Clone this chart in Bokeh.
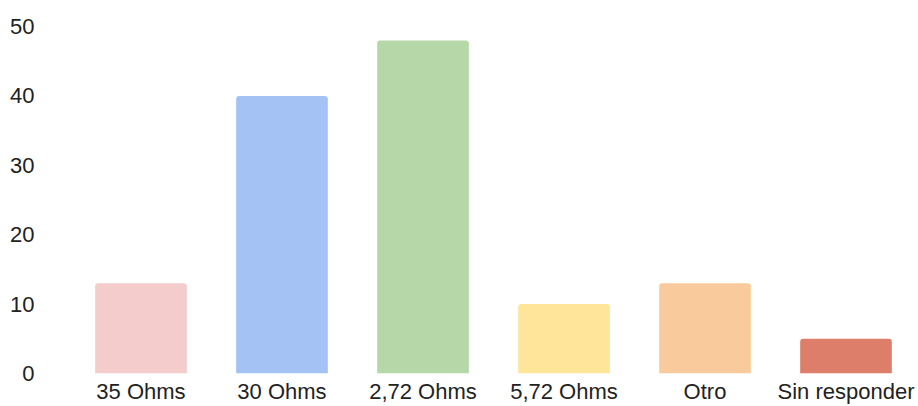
from bokeh.plotting import figure
from bokeh.models import ColumnDataSource, FactorRange, Range1d, FixedTicker
from bokeh.embed import file_html
from bokeh.resources import INLINE

categories = ["35 Ohms", "30 Ohms", "2,72 Ohms", "5,72 Ohms", "Otro", "Sin responder"]
counts = [13, 40, 48, 10, 13, 5]
colors = ["#F4CCCC", "#A4C2F4", "#B6D7A8", "#FFE599", "#F9CB9C", "#DD7E6B"]
y_ticks = [0, 10, 20, 30, 40, 50]

source = ColumnDataSource(data=dict(cat=categories, val=counts, color=colors))

p = figure(
    width=918, height=406,
    x_range=FactorRange(factors=categories, range_padding=0),
    y_range=Range1d(0, 50),
    output_backend="svg", toolbar_location=None,
    min_border_left=70, min_border_right=2, min_border_top=26, min_border_bottom=33,
)

p.vbar(x="cat", top="val", width=0.65, source=source, fill_color="color",
       line_color=None, border_radius=(3, 3, 0, 0))

p.outline_line_color = None
p.xgrid.visible = False
p.ygrid.visible = False

for ax in (p.xaxis, p.yaxis):
    ax.axis_line_color = None
    ax.major_tick_line_color = None
    ax.minor_tick_line_color = None
    ax.major_tick_out = 0
    ax.major_tick_in = 0
    ax.major_label_text_font = "Liberation Sans"
    ax.major_label_text_font_size = "22px"
    ax.major_label_text_color = "#222222"

p.yaxis.ticker = FixedTicker(ticks=y_ticks)
p.yaxis.major_label_standoff = 36
p.xaxis.major_label_standoff = 5

open("out.html", "w").write(file_html(p, INLINE))
